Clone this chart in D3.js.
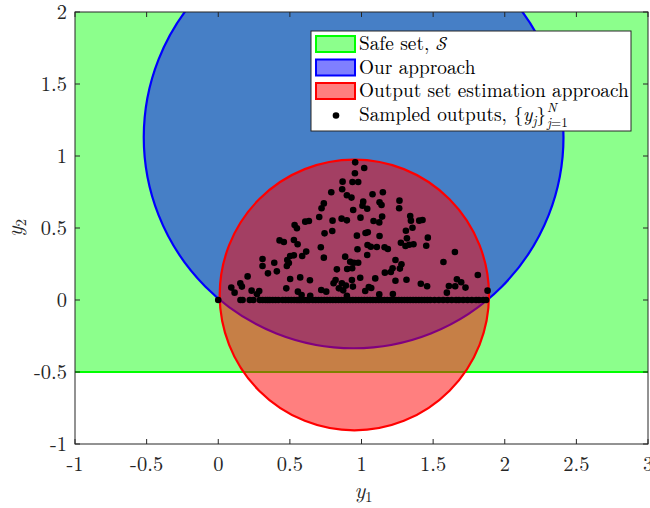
<!DOCTYPE html>
<html>
<head>
<meta charset="utf-8">
<script src="https://cdn.jsdelivr.net/npm/d3@7"></script>
<style>
  body { margin: 0; background: #fff; }
</style>
</head>
<body>
<div id="chart"></div>
<script>
// axis ticks
const xTicks = [-1, -0.5, 0, 0.5, 1, 1.5, 2, 2.5, 3];
const yTicks = [-1, -0.5, 0, 0.5, 1, 1.5, 2];

// safe set: half plane y >= -0.5
const safeLowerY = -0.5;

// circles: [cx, cy, r]
const ourCircle = [0.945, 1.13, 1.465];
const outputCircle = [0.95, 0.035, 0.94];

// sampled outputs above the y1 axis
const sampleX = [0.956, 1.019, 0.954, 0.868, 0.937, 0.977, 0.865, 0.789, 0.898, 0.930, 1.077, 1.149,
  1.012, 1.126, 1.140, 1.265, 1.263, 0.737, 0.721, 0.942, 1.007, 1.040, 0.993, 0.705, 0.798, 0.861,
  0.898, 1.084, 1.124, 1.144, 1.340, 1.345, 1.403, 1.426, 0.533, 0.549, 0.607, 0.633, 0.742, 0.796,
  0.968, 1.028, 1.044, 1.126, 1.310, 1.356, 1.463, 0.428, 0.458, 0.528, 0.554, 0.716, 0.972, 1.042,
  1.065, 1.107, 1.161, 1.184, 1.275, 1.307, 1.333, 1.363, 1.317, 1.452, 1.652, 1.572, 0.309, 0.391,
  0.482, 0.502, 0.528, 0.586, 0.614, 0.737, 0.886, 0.921, 0.947, 0.977, 1.040, 0.900, 0.935, 0.828,
  0.309, 0.347, 0.409, 0.479, 0.493, 1.237, 1.279, 1.217, 1.268, 1.163, 1.205, 0.205, 0.154, 0.165,
  0.091, 0.114, 0.502, 0.572, 0.640, 0.819, 0.805, 0.863, 0.891, 0.933, 0.991, 1.096, 1.237, 1.314,
  1.414, 1.458, 1.610, 1.654, 1.666, 1.696, 1.726, 1.812, 1.596, 1.880, 0.233, 0.286, 0.27, 0.475,
  0.556, 0.582, 0.642, 0.719, 0.754, 0.842, 0.872, 0.898, 0.940, 1.026, 1.051, 1.068, 1.124, 1.219];
const sampleY = [0.956, 0.917, 0.880, 0.822, 0.819, 0.819, 0.769, 0.748, 0.727, 0.711, 0.734, 0.748,
  0.683, 0.678, 0.660, 0.690, 0.637, 0.671, 0.637, 0.625, 0.655, 0.634, 0.572, 0.576, 0.551, 0.565,
  0.553, 0.549, 0.539, 0.579, 0.583, 0.551, 0.551, 0.556, 0.521, 0.498, 0.544, 0.549, 0.463, 0.479,
  0.447, 0.465, 0.470, 0.444, 0.481, 0.502, 0.433, 0.414, 0.403, 0.417, 0.387, 0.366, 0.352, 0.382,
  0.370, 0.368, 0.366, 0.354, 0.398, 0.375, 0.384, 0.387, 0.428, 0.377, 0.333, 0.264, 0.285, 0.259,
  0.278, 0.306, 0.310, 0.306, 0.336, 0.294, 0.301, 0.266, 0.259, 0.259, 0.313, 0.215, 0.220, 0.213,
  0.236, 0.185, 0.199, 0.236, 0.257, 0.278, 0.248, 0.220, 0.218, 0.190, 0.194, 0.164, 0.116, 0.093,
  0.086, 0.051, 0.146, 0.157, 0.137, 0.139, 0.116, 0.116, 0.100, 0.139, 0.155, 0.150, 0.134, 0.141,
  0.113, 0.095, 0.097, 0.095, 0.144, 0.123, 0.086, 0.174, 0.051, 0.065, 0.065, 0.063, 0.040, 0.081,
  0.058, 0.035, 0.030, 0.069, 0.058, 0.081, 0.067, 0.030, 0.093, 0.063, 0.090, 0.083, 0.039, 0.042];

// sampled outputs lying on y2 = 0
const zeroX = [0, 0.155, 0.17, 0.22, 0.245, 0.29, 0.31, 0.33, 0.345, 0.36, 0.38, 0.40, 0.42, 0.45,
  0.47, 0.49, 0.51, 0.53, 0.55, 0.565, 0.58, 0.60, 0.62, 0.635, 0.66, 0.68, 0.70, 0.72, 0.74, 0.76,
  0.78, 0.80, 0.82, 0.84, 0.86, 0.88, 0.90, 0.92, 0.94, 0.96, 0.98, 1.00, 1.02, 1.04, 1.06, 1.08,
  1.10, 1.12, 1.14, 1.16, 1.18, 1.20, 1.22, 1.24, 1.26, 1.28, 1.30, 1.32, 1.34, 1.36, 1.38, 1.40,
  1.42, 1.44, 1.46, 1.48, 1.51, 1.54, 1.57, 1.60, 1.63, 1.66, 1.68, 1.71, 1.74, 1.77, 1.80, 1.82,
  1.85, 1.87];

const legendLabels = ['Safe set, ', 'Our approach', 'Output set estimation approach', 'Sampled outputs, '];

const width = 650;
const height = 508;
const margin = {top: 12, right: 2, bottom: 64, left: 75};
const axisColor = '#262626';
const font = 'Latin Modern Roman';
const fontSize = 20.5;
const legendSize = 19.3;

let x = d3.scaleLinear().domain([-1, 3]).range([margin.left, width - margin.right]);
let y = d3.scaleLinear().domain([-1, 2]).range([height - margin.bottom, margin.top]);

let svg = d3.select('#chart').append('svg')
  .attr('width', width)
  .attr('height', height)
  .attr('font-family', font);

svg.append('clipPath').attr('id', 'plot-clip')
  .append('rect')
  .attr('x', x(-1)).attr('y', y(2))
  .attr('width', x(3) - x(-1)).attr('height', y(-1) - y(2));

let plot = svg.append('g').attr('clip-path', 'url(#plot-clip)');

// safe set
plot.append('rect')
  .attr('x', x(-1) - 10)
  .attr('y', y(2) - 10)
  .attr('width', x(3) - x(-1) + 20)
  .attr('height', y(safeLowerY) - y(2) + 10)
  .attr('fill', '#00ff00').attr('fill-opacity', 0.45)
  .attr('stroke', '#00ff00').attr('stroke-width', 2);

let drawCircle = (c, color) => {
  plot.append('ellipse')
    .attr('cx', x(c[0])).attr('cy', y(c[1]))
    .attr('rx', x(c[2]) - x(0)).attr('ry', y(0) - y(c[2]))
    .attr('fill', color).attr('fill-opacity', 0.5)
    .attr('stroke', color).attr('stroke-width', 2.2);
};
drawCircle(ourCircle, '#0000ff');
drawCircle(outputCircle, '#ff0000');

let points = zeroX.map(v => [v, 0]).concat(sampleX.map((v, i) => [v, sampleY[i]]));
plot.selectAll('circle.pt').data(points).enter().append('circle')
  .classed('pt', true)
  .attr('cx', d => x(d[0])).attr('cy', d => y(d[1]))
  .attr('r', 3.3).attr('fill', '#000');

// axes box with inward ticks
let axes = svg.append('g');
axes.append('rect')
  .attr('x', x(-1)).attr('y', y(2))
  .attr('width', x(3) - x(-1)).attr('height', y(-1) - y(2))
  .attr('fill', 'none').attr('stroke', axisColor).attr('stroke-width', 1);

const tickLen = 5;
xTicks.forEach(t => {
  axes.append('line').attr('x1', x(t)).attr('x2', x(t))
    .attr('y1', y(-1)).attr('y2', y(-1) - tickLen).attr('stroke', axisColor);
  axes.append('line').attr('x1', x(t)).attr('x2', x(t))
    .attr('y1', y(2)).attr('y2', y(2) + tickLen).attr('stroke', axisColor);
  axes.append('text')
    .attr('x', x(t)).attr('y', y(-1) + 27)
    .attr('text-anchor', 'middle')
    .attr('fill', axisColor)
    .attr('font-size', fontSize)
    .text(String(t));
});
yTicks.forEach(t => {
  axes.append('line').attr('x1', x(-1)).attr('x2', x(-1) + tickLen)
    .attr('y1', y(t)).attr('y2', y(t)).attr('stroke', axisColor);
  axes.append('line').attr('x1', x(3)).attr('x2', x(3) - tickLen)
    .attr('y1', y(t)).attr('y2', y(t)).attr('stroke', axisColor);
  axes.append('text')
    .attr('x', x(-1) - 8).attr('y', y(t)).attr('dy', '0.33em')
    .attr('text-anchor', 'end')
    .attr('fill', axisColor)
    .attr('font-size', fontSize)
    .text(String(t));
});

// axis labels
let xl = svg.append('text')
  .attr('x', (x(-1) + x(3)) / 2 + 2).attr('y', height - 10)
  .attr('text-anchor', 'middle').attr('fill', axisColor).attr('font-size', 22);
xl.append('tspan').attr('font-style', 'italic').text('y');
xl.append('tspan').attr('dy', 4).attr('font-size', 15).text('1');

let yl = svg.append('text')
  .attr('transform', `translate(22, ${(y(-1) + y(2)) / 2}) rotate(-90)`)
  .attr('text-anchor', 'middle').attr('fill', axisColor).attr('font-size', 22);
yl.append('tspan').attr('font-style', 'italic').text('y');
yl.append('tspan').attr('dy', 4).attr('font-size', 15).text('2');

// legend
const lg = {x: 311, y: 31, w: 320, h: 100, row: 23.5};
let legend = svg.append('g');
legend.append('rect')
  .attr('x', lg.x).attr('y', lg.y).attr('width', lg.w).attr('height', lg.h)
  .attr('fill', '#fff').attr('stroke', axisColor).attr('stroke-width', 1);

const swatches = [['#00ff00', 0.45], ['#0000ff', 0.5], ['#ff0000', 0.5]];
swatches.forEach((s, i) => {
  let cy = lg.y + 13 + i * lg.row;
  legend.append('rect')
    .attr('x', lg.x + 5).attr('y', cy - 8).attr('width', 39).attr('height', 16)
    .attr('fill', s[0]).attr('fill-opacity', s[1])
    .attr('stroke', s[0]).attr('stroke-width', 2);
});
legend.append('circle')
  .attr('cx', lg.x + 25).attr('cy', lg.y + 13 + 3 * lg.row + 1).attr('r', 3.3).attr('fill', '#000');

legendLabels.forEach((label, i) => {
  let t = legend.append('text')
    .attr('x', lg.x + 48).attr('y', lg.y + 13 + i * lg.row).attr('dy', '0.33em')
    .attr('fill', '#000')
    .attr('font-size', legendSize);
  t.append('tspan').text(label);
  if (i === 0) {
    t.append('tspan').attr('font-family', 'Latin Modern Math').text('\u{1D4AE}');
  }
  if (i === 3) {
    t.append('tspan').text('{');
    t.append('tspan').attr('font-style', 'italic').text('y');
    t.append('tspan').attr('dy', 4).attr('font-style', 'italic').attr('font-size', 13).text('j');
    t.append('tspan').attr('dy', -4).text('}');
    let bb = t.node().getBBox();
    let sub = legend.append('text')
      .attr('x', bb.x + bb.width + 1).attr('y', lg.y + 13 + i * lg.row + 12)
      .attr('fill', '#000').attr('font-size', 13);
    sub.append('tspan').attr('font-style', 'italic').text('j');
    sub.append('tspan').text('=1');
    legend.append('text')
      .attr('x', bb.x + bb.width + 1).attr('y', lg.y + 13 + i * lg.row - 3)
      .attr('fill', '#000').attr('font-size', 13).attr('font-style', 'italic').text('N');
  }
});
</script>
</body>
</html>
